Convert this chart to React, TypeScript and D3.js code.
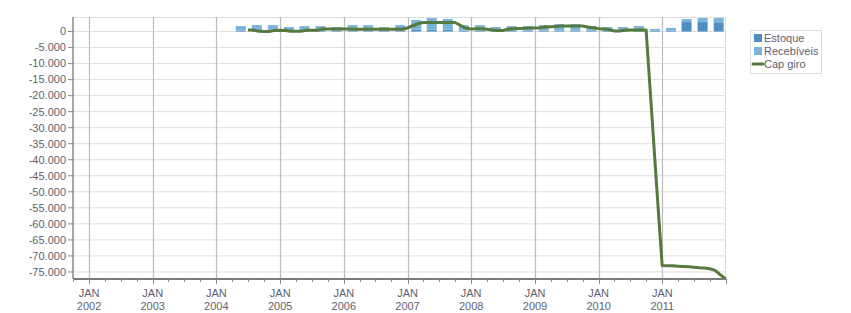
import React from "react";
import * as d3 from "d3";

// ---- Data ----
const barQuarters = [
  "2004-05", "2004-08", "2004-11",
  "2005-02", "2005-05", "2005-08", "2005-11",
  "2006-02", "2006-05", "2006-08", "2006-11",
  "2007-02", "2007-05", "2007-08", "2007-11",
  "2008-02", "2008-05", "2008-08", "2008-11",
  "2009-02", "2009-05", "2009-08", "2009-11",
  "2010-02", "2010-05", "2010-08", "2010-11",
  "2011-02", "2011-05", "2011-08", "2011-11",
];
const estoque = [
  300, 300, 300,
  300, 300, 300, 300,
  300, 300, 300, 300,
  600, 600, 600, 300,
  300, 300, 300, 300,
  300, 300, 300, 300,
  300, 300, 300, 300,
  300, 2950, 2950, 2650,
];
const recebiveis = [
  1400, 1700, 1700,
  1100, 1400, 1400, 1100,
  1700, 1700, 1100, 1700,
  3000, 3600, 3300, 1700,
  1700, 1100, 1400, 1400,
  1700, 2000, 2000, 1400,
  1100, 1100, 1400, 500,
  800, 950, 1270, 1570,
];

const capGiroStart = "2004-06";
const capGiro = [
  // 2004 Jun-Dec
  470, 470, 50, 0, 0, 350, 370,
  // 2005
  350, 100, 50, 100, 370, 370, 370, 780, 780, 780, 780, 780,
  // 2006
  750, 700, 700, 700, 700, 700, 700, 700, 700, 700, 700, 1100,
  // 2007
  1800, 2400, 2800, 2800, 2800, 2800, 2800, 2800, 2800, 1900, 1100, 800,
  // 2008
  900, 900, 700, 500, 300, 300, 700, 900, 950, 1000, 1100, 1100,
  // 2009
  1200, 1400, 1500, 1600, 1700, 1700, 1700, 1700, 1700, 1400, 1200, 900,
  // 2010
  800, 600, 150, 150, 400, 470, 470, 470, 470, -24500, -48800, -73000,
  // 2011
  -73100, -73100, -73200, -73300, -73400, -73500, -73700, -73800, -74000, -74500, -75900, -77200,
];

const yTicks = [0, -5000, -10000, -15000, -20000, -25000, -30000, -35000, -40000, -45000, -50000, -55000, -60000, -65000, -70000, -75000];
const xYears = [2002, 2003, 2004, 2005, 2006, 2007, 2008, 2009, 2010, 2011];
const seriesNames = ["Estoque", "Recebíveis", "Cap giro"];

// ---- Styling ----
const COLOR_EST = "#4f8ec0";
const COLOR_REC = "#79b3d9";
const COLOR_LINE = "#567a3d";
const TEXT = "#5f5f70";
const FONT = "'Liberation Sans', Arial, sans-serif";

const W = 851, H = 313;
const left = 73, right = 726, top = 17, bottom = 279;

function fmt(v: number): string {
  const s = d3.format(",")(Math.abs(v)).replace(/,/g, ".");
  return (v < 0 ? "-" : "") + s;
}

export default function App() {
  const x = d3.scaleTime()
    .domain([new Date(2001, 9, 1), new Date(2012, 0, 1)])
    .range([left, right]);
  const y = d3.scaleLinear().domain([-77200, 4530]).range([bottom, top]);

  const [sy, sm] = capGiroStart.split("-").map(Number);
  const lineData = capGiro.map((v, i) => ({
    date: new Date(sy, sm - 1 + i + 1, 0),
    v,
  }));
  const line = d3.line<{ date: Date; v: number }>()
    .x((d) => x(d.date))
    .y((d) => y(d.v));

  const bars = barQuarters.map((q, i) => {
    const [yy, mm] = q.split("-").map(Number);
    return { date: new Date(yy, mm - 1, 20), est: estoque[i], rec: recebiveis[i] };
  });
  const bw = 10;

  const minorTicks = d3.timeMonth.every(3)!.range(new Date(2001, 9, 1), new Date(2012, 0, 2));

  return (
    <div style={{ position: "absolute", left: 0, top: 0 }}>
      <svg width={W} height={H} style={{ display: "block", fontFamily: FONT }}>
        <rect x={0} y={0} width={W} height={H} fill="#fff" />
        {/* horizontal grid */}
        {yTicks.map((t) => (
          <line key={"h" + t} x1={left} x2={right} y1={y(t)} y2={y(t)} stroke="#dedede" strokeWidth={1} />
        ))}
        {/* frame top/right */}
        <line x1={left} x2={right} y1={top + 0.5} y2={top + 0.5} stroke="#dedede" />
        <line x1={right - 0.5} x2={right - 0.5} y1={top} y2={bottom} stroke="#dedede" />
        {/* vertical grid */}
        {xYears.map((yr) => {
          const xx = Math.round(x(new Date(yr, 0, 1))) + 0.5;
          return <line key={"v" + yr} x1={xx} x2={xx} y1={top} y2={bottom} stroke="#bcbcbc" strokeWidth={1.2} />;
        })}
        {/* bars */}
        {bars.map((b, i) => {
          const cx = x(b.date);
          return (
            <g key={"b" + i}>
              <rect x={cx - bw / 2} y={y(b.est)} width={bw} height={y(0) - y(b.est)} fill={COLOR_EST} />
              <rect x={cx - bw / 2} y={y(b.est + b.rec)} width={bw} height={y(b.est) - y(b.est + b.rec)} fill={COLOR_REC} />
            </g>
          );
        })}
        {/* line */}
        <path d={line(lineData) || ""} fill="none" stroke={COLOR_LINE} strokeWidth={3} strokeLinejoin="round" />
        {/* axes */}
        <line x1={left} x2={left} y1={top} y2={bottom} stroke="#8a8a8a" strokeWidth={1.5} />
        <line x1={left} x2={right} y1={bottom} y2={bottom} stroke="#7a7a7a" strokeWidth={2} />
        {yTicks.map((t) => (
          <g key={"yt" + t}>
            <line x1={left - 5} x2={left} y1={y(t)} y2={y(t)} stroke="#8a8a8a" />
            <text x={left - 7} y={y(t)} dy="0.35em" textAnchor="end" fontSize={11} fill={TEXT}>{fmt(t)}</text>
          </g>
        ))}
        {minorTicks.map((d, i) => {
          const xx = Math.round(x(d)) + 0.5;
          const major = d.getMonth() === 0;
          return <line key={"mt" + i} x1={xx} x2={xx} y1={bottom} y2={bottom + (major ? 5 : 3)} stroke="#8a8a8a" />;
        })}
        {xYears.map((yr) => {
          const xx = x(new Date(yr, 0, 1));
          return (
            <g key={"xl" + yr}>
              <text x={xx} y={293} dy="0.35em" textAnchor="middle" fontSize={11} fill={TEXT}>JAN</text>
              <text x={xx} y={306} dy="0.35em" textAnchor="middle" fontSize={11} fill={TEXT}>{yr}</text>
            </g>
          );
        })}
        {/* legend */}
        <rect x={750.5} y={30.5} width={71} height={43} fill="#fff" stroke="#dcdcdc" />
        <rect x={754} y={34} width={8} height={8} fill={COLOR_EST} />
        <text x={764} y={38.5} dy="0.35em" fontSize={11} fill={TEXT}>{seriesNames[0]}</text>
        <rect x={754} y={47} width={8} height={8} fill={COLOR_REC} />
        <text x={764} y={51.5} dy="0.35em" fontSize={11} fill={TEXT}>{seriesNames[1]}</text>
        <line x1={753} x2={763} y1={64} y2={64} stroke={COLOR_LINE} strokeWidth={3} strokeLinecap="round" />
        <text x={764} y={64.5} dy="0.35em" fontSize={11} fill={TEXT}>{seriesNames[2]}</text>
      </svg>
    </div>
  );
}
